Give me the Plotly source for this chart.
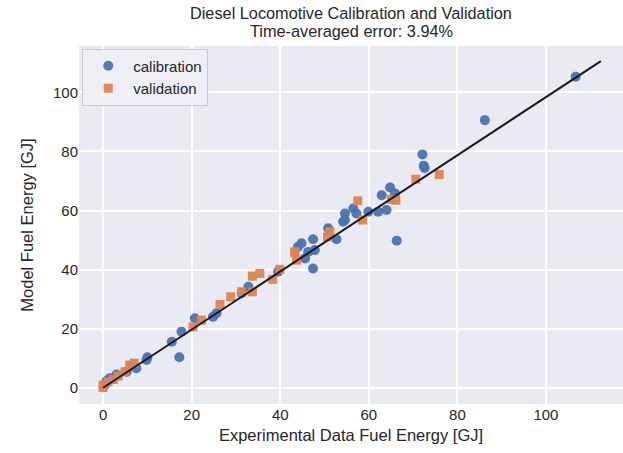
import plotly.graph_objects as go

# calibration data (experimental, model) in GJ
cal_x = [106.7, 86.2, 72.1, 72.4, 72.6, 64.8, 62.9, 65.9, 64.0, 62.1, 59.9, 66.3,
         56.5, 57.2, 54.6, 54.2, 54.6, 52.7, 50.8, 44.8, 47.4, 47.8, 46.3, 45.6,
         47.4, 44.0, 39.5, 32.8, 31.3, 25.6, 24.8, 20.7, 17.7, 15.5, 17.2, 10.0,
         9.8, 7.5, 5.3, 3.0, 1.5, 0.8, 0.3]
cal_y = [105.3, 90.6, 79.0, 75.2, 74.4, 67.8, 65.2, 65.8, 60.2, 59.6, 59.6, 49.8,
         60.7, 59.0, 59.0, 56.2, 56.8, 50.3, 54.0, 48.9, 50.3, 46.6, 46.0, 43.8,
         40.4, 47.7, 39.3, 34.2, 32.0, 25.2, 24.0, 23.5, 19.0, 15.6, 10.3, 10.3,
         9.4, 6.6, 5.4, 4.5, 3.2, 2.4, 0.8]

# validation data
val_x = [75.9, 70.6, 65.1, 66.1, 57.5, 58.6, 51.2, 50.7, 43.3, 43.7, 43.3, 39.9,
         38.3, 35.4, 33.7, 33.7, 31.3, 28.8, 26.4, 22.2, 20.3, 7.0, 6.0, 4.9,
         3.4, 2.3, 1.1, 0.0, 0.0]
val_y = [72.2, 70.6, 63.8, 63.5, 63.3, 56.8, 52.8, 51.1, 46.0, 43.2, 45.7, 40.1,
         36.7, 38.7, 37.8, 32.5, 32.5, 30.8, 28.2, 22.9, 20.6, 8.3, 7.7, 5.4,
         4.0, 2.8, 2.0, 0.9, 0.1]

# fit line endpoints
line_x = [0.0, 112.4]
line_y = [0.0, 110.6]

x_ticks = [0, 20, 40, 60, 80, 100]
y_ticks = [0, 20, 40, 60, 80, 100]

title_lines = ["Diesel Locomotive Calibration and Validation", "Time-averaged error: 3.94%"]

font = "Liberation Sans, Arial, sans-serif"
txt = "#262626"

fig = go.Figure()
fig.add_trace(go.Scatter(x=cal_x, y=cal_y, mode="markers", name="calibration",
                         marker=dict(symbol="circle", size=10, color="#4c72b0", opacity=0.95,
                                     line=dict(width=0))))
fig.add_trace(go.Scatter(x=val_x, y=val_y, mode="markers", name="validation",
                         marker=dict(symbol="square", size=9, color="#dd8452", opacity=0.95,
                                     line=dict(width=0))))
fig.add_trace(go.Scatter(x=line_x, y=line_y, mode="lines", showlegend=False,
                         line=dict(color="#1a1a1a", width=2)))

# title as two centered text lines above the plot
for txt_line, ypos in zip(title_lines, [1.091, 1.043]):
    fig.add_annotation(text=txt_line, xref="paper", yref="paper", x=0.5, y=ypos,
                       xanchor="center", yanchor="middle", showarrow=False,
                       font=dict(size=16.3, color=txt, family=font))

fig.update_layout(
    width=623, height=453,
    margin=dict(l=79, r=0, t=46, b=49),
    paper_bgcolor="white",
    plot_bgcolor="#eaeaf2",
    font=dict(family=font, size=15, color=txt),
    legend=dict(x=0.006, y=0.993, xanchor="left", yanchor="top",
                bgcolor="rgba(238,238,245,0.9)", bordercolor="#cccccc", borderwidth=1,
                font=dict(size=15, color=txt), itemwidth=40),
    xaxis=dict(range=[-5.45, 117.4], tickvals=x_ticks, showgrid=True, gridcolor="white",
               gridwidth=1.5, zeroline=False, showline=False, ticks="",
               title=dict(text="Experimental Data Fuel Energy [GJ]", font=dict(size=16.5), standoff=7),
               tickfont=dict(size=15)),
    yaxis=dict(range=[-5.5, 115.7], tickvals=y_ticks, showgrid=True, gridcolor="white",
               gridwidth=1.5, zeroline=False, showline=False, ticks="",
               title=dict(text="Model Fuel Energy [GJ]", font=dict(size=16.5), standoff=15),
               tickfont=dict(size=15)),
)

fig.write_html("out.html")
